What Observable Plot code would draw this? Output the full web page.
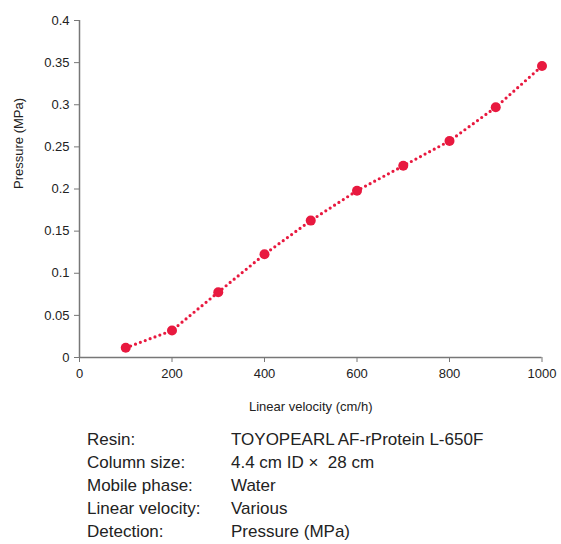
<!DOCTYPE html>
<html><head><meta charset="utf-8">
<script src="https://cdn.jsdelivr.net/npm/d3@7"></script>
<script src="https://cdn.jsdelivr.net/npm/@observablehq/plot@0.6"></script>
<style>
body{margin:0;background:#fff;font-family:"Liberation Sans Narrow","Liberation Sans",sans-serif;}
#cap{display:grid;grid-template-columns:144px auto;margin-left:87px;margin-top:10px;font-size:17px;line-height:23px;color:#222;}
</style></head><body>
<div id="chart"></div>
<div id="cap"></div>
<script>
const velocity = [100,200,300,400,500,600,700,800,900,1000];
const pressure = [0.0115,0.032,0.0775,0.1225,0.1625,0.198,0.2275,0.257,0.297,0.346];
const xTicks = [0,200,400,600,800,1000];
const xTickLabels = ["0","200","400","600","800","1000"];
const yTicks = [0,0.05,0.1,0.15,0.2,0.25,0.3,0.35,0.4];
const yTickLabels = ["0","0.05","0.1","0.15","0.2","0.25","0.3","0.35","0.4"];
const capLabels = ["Resin:","Column size:","Mobile phase:","Linear velocity:","Detection:"];
const capValues = ["TOYOPEARL AF-rProtein L-650F","4.4 cm ID \u00d7  28 cm","Water","Various","Pressure (MPa)"];

const data = velocity.map((v,i)=>({v, p: pressure[i]}));
const red = "#e8193f";
const plot = Plot.plot({
  width: 561, height: 418,
  marginLeft: 79, marginRight: 19.5, marginTop: 20, marginBottom: 61,
  style: {fontFamily: '"Liberation Sans Narrow","Liberation Sans",sans-serif', fontSize: "13px", color: "#222", background: "#fff"},
  x: {domain: [0,1000], label: null},
  y: {domain: [0,0.4], label: null},
  marks: [
    Plot.ruleY([0], {stroke: "#777", strokeWidth: 1.5}),
    Plot.ruleX([0], {stroke: "#777", strokeWidth: 1.5}),
    Plot.axisX({ticks: xTicks, tickFormat: (d,i)=>xTickLabels[i], tickSize: 5, stroke: "#777", fontSize: 13, tickPadding: 6, label: null}),
    Plot.axisY({ticks: yTicks, tickFormat: (d,i)=>yTickLabels[i], tickSize: 5, stroke: "#777", fontSize: 13, tickPadding: 5, label: null}),
    Plot.line(data, {x: "v", y: "p", stroke: red, strokeWidth: 3.2, strokeDasharray: "0 5.2", strokeLinecap: "round"}),
    Plot.dot(data, {x: "v", y: "p", r: 5, fill: red, stroke: "none"}),
    Plot.text(["Linear velocity (cm/h)"], {frameAnchor: "bottom", dy: 53, text: d=>d, fontSize: 13, fill: "#222"}),
    Plot.text(["Pressure (MPa)"], {frameAnchor: "left", dx: -61, rotate: -90, text: d=>d, fontSize: 13, fill: "#222"})
  ]
});
document.getElementById("chart").appendChild(plot);
const cap = document.getElementById("cap");
capLabels.forEach((l,i)=>{
  const a=document.createElement("div"); a.textContent=l; cap.appendChild(a);
  const b=document.createElement("div"); b.textContent=capValues[i]; b.style.whiteSpace="pre"; cap.appendChild(b);
});
</script>
</body></html>
